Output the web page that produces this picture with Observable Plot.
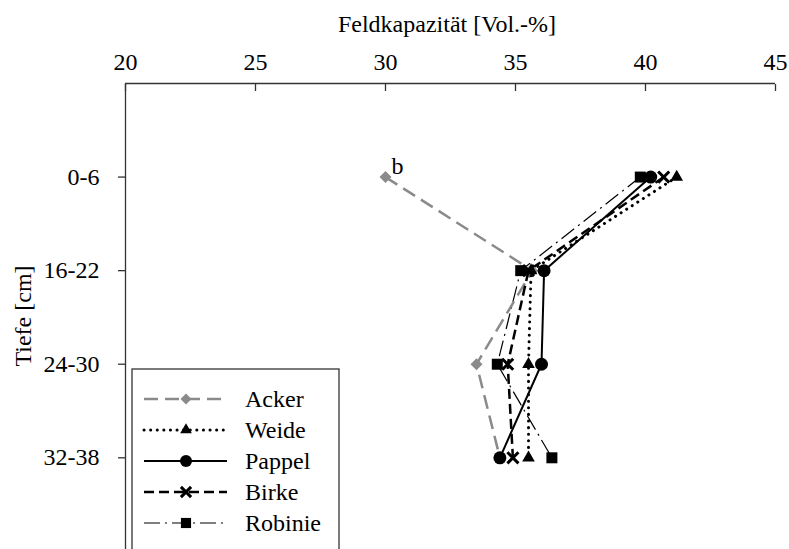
<!DOCTYPE html>
<html>
<head>
<meta charset="utf-8">
<script src="https://cdn.jsdelivr.net/npm/d3@7"></script>
<script src="https://cdn.jsdelivr.net/npm/@observablehq/plot@0.6"></script>
<style>
  html, body { margin: 0; padding: 0; background: white; }
  #wrap { position: relative; width: 789px; height: 549px; overflow: hidden; }
  #overlay { position: absolute; left: 0; top: 0; pointer-events: none; }
  text { fill: black; }
</style>
</head>
<body>
<div id="wrap"></div>
<script>
// ---- data ----
const depths = ["0-6", "16-22", "24-30", "32-38"];
const xTicks = [20, 25, 30, 35, 40, 45];
const seriesNames = ["Acker", "Weide", "Pappel", "Birke", "Robinie"];
const acker   = [30.0, 35.65, 33.5, 34.4];
const weide   = [41.2, 35.6, 35.5, 35.5];
const pappel  = [40.2, 36.1, 36.0, 34.4];
const birke   = [40.7, 35.5, 34.7, 34.9];
const robinie = [39.8, 35.2, 34.3, 36.4];
const annotText = ["b"];
const annotX = [30.0];
const annotDepth = ["0-6"];
const titleText = "Feldkapazität [Vol.-%]";
const yLabelText = "Tiefe [cm]";

// ---- styles ----
const FONT = "'Liberation Serif', 'Times New Roman', serif";
const styles = {
  Acker:   {stroke: "#8a8a8a", width: 2.5, dash: "14,7", cap: "butt", symbol: "diamond2", r: 5.4, fill: "#8a8a8a", mstroke: "none", mwidth: 0},
  Weide:   {stroke: "black", width: 3, dash: "0.1,6.5", cap: "round", symbol: "triangle", r: 4.7, fill: "black", mstroke: "none", mwidth: 0},
  Pappel:  {stroke: "black", width: 2, dash: null, cap: "butt", symbol: "circle", r: 6.5, fill: "black", mstroke: "none", mwidth: 0},
  Birke:   {stroke: "black", width: 2.5, dash: "10,5", cap: "butt", symbol: "times", r: 5.1, fill: "none", mstroke: "black", mwidth: 3},
  Robinie: {stroke: "black", width: 1.2, dash: "16,5,2,5", cap: "butt", symbol: "square", r: 6.2, fill: "black", mstroke: "none", mwidth: 0}
};
const valuesBySeries = {Acker: acker, Weide: weide, Pappel: pappel, Birke: birke, Robinie: robinie};

const rows = [];
for (const s of seriesNames) {
  valuesBySeries[s].forEach((v, i) => rows.push({series: s, depth: depths[i], pos: i + 1, value: v}));
}
const annots = annotText.map((t, i) => ({text: t, value: annotX[i], pos: depths.indexOf(annotDepth[i]) + 1}));

const lineOrder = ["Robinie", "Acker", "Birke", "Weide", "Pappel"];
const lineMarks = lineOrder.map(s => Plot.line(rows.filter(d => d.series === s), {
  x: "value", y: "pos", stroke: styles[s].stroke, strokeWidth: styles[s].width,
  strokeDasharray: styles[s].dash, strokeLinecap: styles[s].cap, strokeLinejoin: "round"
}));
const dotMarks = lineOrder.map(s => Plot.dot(rows.filter(d => d.series === s), {
  x: "value", y: "pos", symbol: () => styles[s].symbol, r: styles[s].r,
  fill: styles[s].fill, stroke: styles[s].mstroke, strokeWidth: styles[s].mwidth
}));

const AX = "#333";
const chart = Plot.plot({
  width: 789, height: 549,
  marginLeft: 125, marginRight: 14, marginTop: 83, marginBottom: 0,
  style: {fontFamily: FONT, fontSize: "24px", background: "white", color: "black", overflow: "visible"},
  x: {domain: [20, 45]},
  y: {domain: [0, 4.98], reverse: true},
  symbol: {type: "identity"},
  marks: [
    Plot.ruleY([0], {stroke: AX, strokeWidth: 1.3}),
    Plot.ruleX([20], {stroke: AX, strokeWidth: 1.3}),
    Plot.axisX({anchor: "top", ticks: xTicks, tickFormat: d => String(d), tickSize: -7, tickPadding: 21, label: null, stroke: AX, strokeWidth: 1.3, fill: "black"}),
    Plot.axisY({anchor: "left", ticks: [1, 2, 3, 4], tickFormat: i => depths[i - 1], tickSize: 7, tickPadding: 19, label: null, stroke: AX, strokeWidth: 1.3, fill: "black"}),
    ...lineMarks,
    ...dotMarks,
    Plot.text(annots, {x: "value", y: "pos", text: "text", dx: 12, dy: -11, fontSize: 24, fill: "black"})
  ]
});
const wrap = document.getElementById("wrap");
wrap.appendChild(chart);

// ---- overlay: title, y label, legend ----
const ov = d3.select(wrap).append("svg").attr("id", "overlay")
  .attr("width", 789).attr("height", 549)
  .style("font-family", FONT);
ov.append("text").attr("x", 447).attr("y", 32).attr("text-anchor", "middle")
  .attr("font-size", 24).attr("fill", "black").text(titleText);
ov.append("text").attr("transform", "translate(31,316) rotate(-90)").attr("text-anchor", "middle")
  .attr("font-size", 24).attr("fill", "black").text(yLabelText);

const lg = ov.append("g");
lg.append("rect").attr("x", 132).attr("y", 369).attr("width", 207).attr("height", 220)
  .attr("fill", "white").attr("stroke", AX).attr("stroke-width", 1.3);
const symMap = {diamond2: d3.symbolDiamond2, triangle: d3.symbolTriangle, circle: d3.symbolCircle, times: d3.symbolTimes, square: d3.symbolSquare};
const legendY = [399, 430, 461, 492, 523];
seriesNames.forEach((s, i) => {
  const st = styles[s];
  const y = legendY[i];
  lg.append("line").attr("x1", 144).attr("x2", 227).attr("y1", y).attr("y2", y)
    .attr("stroke", st.stroke).attr("stroke-width", st.width)
    .attr("stroke-dasharray", st.dash).attr("stroke-linecap", st.cap);
  const sz = st.r * st.r * Math.PI * 0.85;
  lg.append("path").attr("transform", `translate(186,${y})`)
    .attr("d", d3.symbol().type(symMap[st.symbol]).size(sz)())
    .attr("fill", st.fill).attr("stroke", st.mstroke).attr("stroke-width", st.mwidth);
  lg.append("text").attr("x", 245).attr("y", y).attr("dy", "0.33em").attr("font-size", 24).attr("fill", "black").text(s);
});
</script>
</body>
</html>
